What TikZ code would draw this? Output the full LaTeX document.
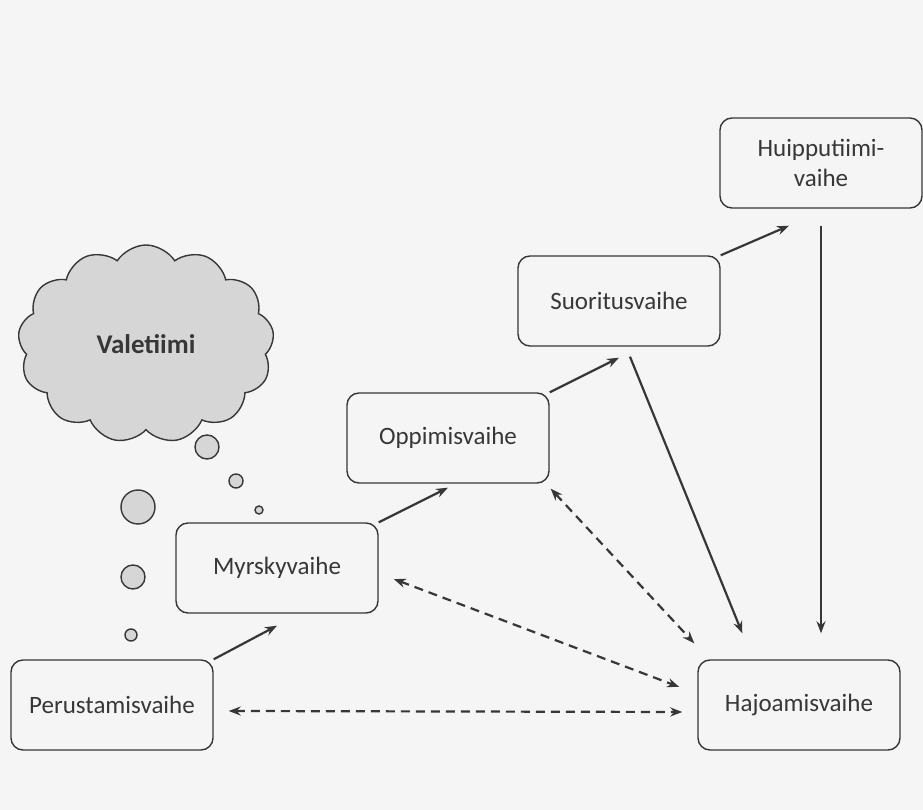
\documentclass[tikz,border=0pt]{standalone}
\usepackage{fontspec}
\setmainfont{Carlito}
\usetikzlibrary{arrows.meta,positioning,calc,shapes.symbols}
\definecolor{paper}{RGB}{245,245,245}
\definecolor{ink}{RGB}{55,55,55}
\definecolor{puff}{RGB}{214,214,214}

\begin{document}
\begin{tikzpicture}[>={Stealth[length=6pt,width=4.5pt]}, x=1pt, y=1pt, on grid,
  phase/.style={draw=ink, rounded corners=6pt, minimum width=101pt, minimum height=45pt,
    align=center, text=ink, font=\fontsize{12.5}{15}\selectfont, line width=0.7pt},
  link/.style={->, draw=ink, line width=1.1pt},
  back/.style={<->, draw=ink, line width=1.1pt, dash pattern=on 4.5pt off 3pt},
  bubble/.style={draw=ink, fill=puff, line width=0.7pt}]
\fill[paper] (0,0) rectangle (461.5,405);
\useasboundingbox (0,0) rectangle (461.5,405);
% vaiheet
\node[phase] (perus) at (56,52.5) {Perustamisvaihe};
\node[phase] (myrsky) [above right=68.5pt and 82.5pt of perus]  {Myrskyvaihe};
\node[phase] (oppi)   [above right=65pt and 85.5pt of myrsky]   {Oppimisvaihe};
\node[phase] (suor)   [above right=68.5pt and 85.5pt of oppi]   {Suoritusvaihe};
\node[phase] (huippu) [above right=69pt and 101pt of suor]      {Huipputiimi-\\vaihe};
\node[phase] (hajo)   [right=343.5pt of perus]                  {Hajoamisvaihe};
% pilvi
\node[cloud, cloud puffs=13, cloud puff arc=115, draw=ink, fill=puff, line width=0.7pt,
  minimum width=128pt, minimum height=99pt, text=ink,
  font=\bfseries\fontsize{13.5}{16}\selectfont] (vale) at (73,233) {Valetiimi};
\draw[bubble] (103.5,181.5) circle (6pt);
\draw[bubble] (118,164.5) circle (3.5pt);
\draw[bubble] (129.5,150) circle (2pt);
\draw[bubble] (69,151.5) circle (8.5pt);
\draw[bubble] (66.5,116.5) circle (6pt);
\draw[bubble] (65.5,87.5) circle (3pt);
% nuolet
\draw[link] (perus.north east) -- ($(myrsky.south)+(0,-6)$);
\draw[link] (myrsky.north east) -- ($(oppi.south)+(0,-2)$);
\draw[link] (oppi.north east) -- ($(suor.south)+(0,-5.5)$);
\draw[link] (suor.north east) -- ($(huippu.south)+(-16,-8.5)$);
\draw[link] ($(suor.south)+(5.5,-5)$) -- ($(hajo.north west)+(22.5,13)$);
\draw[link] ($(huippu.south)+(0,-8.5)$) -- ($(huippu.south |- hajo.north)+(0,13)$);
\draw[back] ($(oppi.south east)+(0.5,-2.5)$) -- ($(hajo.north west)+(-1.5,8)$);
\draw[back] ($(myrsky.east)+(7.5,-5.5)$) -- ($(hajo.west)+(-9,9)$);
\draw[back] ($(perus.east)+(7.5,-3)$) -- ($(hajo.west)+(-7.5,-3.5)$);
\end{tikzpicture}
\end{document}
